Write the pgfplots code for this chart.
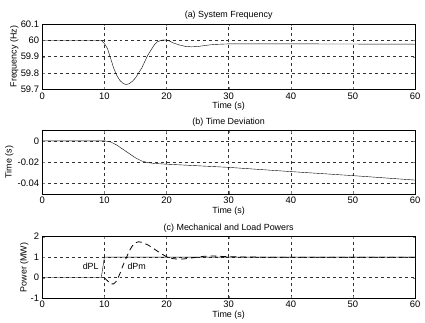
\documentclass[border=0pt]{standalone}
\usepackage{pgfplots}
\pgfplotsset{compat=1.18}
\usepackage{fontspec}
\setmainfont{Liberation Sans}
\begin{document}
\fontsize{9}{10}\selectfont
\pgfplotsset{
  panel/.style={
    width=375bp, scale only axis, xmin=0, xmax=60,
    xtick={0,10,...,60},
    tick align=inside, axis line style={black, line width=0.7pt},
    major tick length=2.5pt,
    grid=major, major grid style={black!80, dash pattern=on 3pt off 3pt, line width=0.45pt},
    xlabel={Time (s)},
    xlabel style={yshift=3pt},
    title style={yshift=-5pt},
    ticklabel style={font=\fontsize{9.5}{10}\selectfont},
    /pgf/number format/assume math mode=true,
    label style={font=\fontsize{9}{10}\selectfont},
    cycle list={{black, solid, no markers, line width=0.8pt}},
    scaled ticks=false,
  }
}
\begin{tikzpicture}
\begin{axis}[panel, at={(40bp,-24bp)}, anchor=north west, height=66bp,
  ymin=59.7, ymax=60.1, ytick={59.7,59.8,59.9,60,60.1},
  yticklabel style={/pgf/number format/fixed, /pgf/number format/precision=1},
  ylabel={Frequency (Hz)}, ylabel style={yshift=-4pt},
  title={(a) System Frequency}]
\addplot coordinates {(0,60) (9.5,60) (10,59.98) (10.5,59.95) (11,59.89) (11.5,59.83) (12,59.785) (12.5,59.755) (13,59.737) (13.5,59.73) (14,59.735) (14.5,59.75) (15,59.77) (15.5,59.8) (16,59.83) (16.5,59.87) (17,59.91) (17.5,59.94) (18,59.97) (18.5,59.99) (19,59.998) (19.5,60.002) (20,60.0) (20.5,59.995) (21,59.985) (22,59.972) (23,59.963) (24,59.96) (25,59.962) (26,59.967) (27,59.972) (28,59.975) (30,59.978) (40,59.978) (60,59.976)};
\end{axis}
\begin{axis}[panel, at={(40bp,-131bp)}, anchor=north west, height=64bp,
  ymin=-0.05, ymax=0.01, ytick={-0.04,-0.02,0},
  yticklabel style={/pgf/number format/fixed, /pgf/number format/precision=2},
  ylabel={Time (s)}, ylabel style={yshift=-2pt},
  title={(b) Time Deviation}]
\addplot coordinates {(0,0) (10,0) (11,-0.001) (12,-0.004) (13,-0.008) (14,-0.012) (15,-0.016) (16,-0.019) (17,-0.0205) (18,-0.0213) (20,-0.022) (25,-0.0235) (30,-0.025) (40,-0.029) (50,-0.0328) (60,-0.037)};
\end{axis}
\begin{axis}[panel, at={(40bp,-238bp)}, anchor=north west, height=62bp,
  ymin=-1, ymax=2, ytick={-1,0,1,2},
  ylabel={Power (MW)}, ylabel style={yshift=-4pt},
  title={(c) Mechanical and Load Powers}]
\addplot coordinates {(0,0) (9.5,0) (10,1) (60,1)};
\addplot[black, line width=0.8pt, dash pattern=on 6pt off 4pt] coordinates {(10,0) (10.5,-0.15) (11,-0.3) (11.5,-0.3) (12,-0.15) (12.5,0.2) (13,0.6) (13.5,0.95) (14,1.3) (14.5,1.55) (15,1.7) (15.5,1.75) (16,1.72) (17,1.6) (18,1.4) (19,1.2) (20,1.02) (21,0.93) (22,0.9) (23,0.92) (24,0.96) (25,1.0) (26,1.04) (27,1.06) (28,1.05) (30,1.02) (35,1.0) (60,1.0)};
\node[font=\fontsize{9}{10}\selectfont] at (axis cs:7.8,0.55) {dPL};
\node[font=\fontsize{9}{10}\selectfont] at (axis cs:15.2,0.55) {dPm};
\end{axis}
\pgfresetboundingbox
\useasboundingbox (0,0) rectangle (425bp,-324bp);
\end{tikzpicture}
\end{document}
